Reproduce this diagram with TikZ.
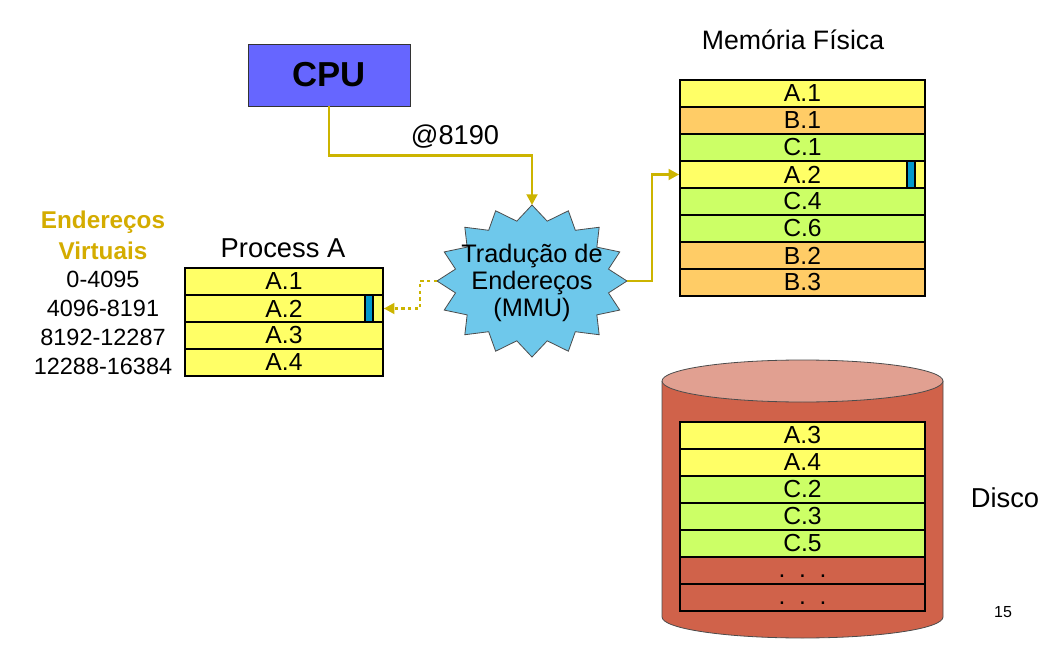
\documentclass[tikz,border=0pt]{standalone}
\usepackage{fontspec}
\setmainfont{Liberation Sans}
\usetikzlibrary{arrows.meta}
\definecolor{cpublue}{RGB}{102,102,255}
\definecolor{gold}{RGB}{204,180,0}
\definecolor{goldtxt}{RGB}{212,172,0}
\definecolor{rowyel}{RGB}{255,255,102}
\definecolor{roworg}{RGB}{255,204,102}
\definecolor{rowgrn}{RGB}{204,255,102}
\definecolor{mark}{RGB}{0,153,204}
\definecolor{mmublue}{RGB}{110,200,235}
\definecolor{diskred}{RGB}{208,98,74}
\definecolor{disktop}{RGB}{225,160,145}
\begin{document}
\begin{tikzpicture}[x=0.75pt,y=-0.75pt,
	fnt/.style={font=\fontsize{#1}{#1}\selectfont},
	row/.style={draw, line width=1.2pt, minimum width=183.75pt, minimum height=20.25pt, inner sep=0pt, fnt=18.5},
	prow/.style={row, minimum width=148.5pt, fill=rowyel},
	link/.style={gold, line width=2.2pt, -{Triangle[length=8pt,width=8pt]}},
	marker/.style={draw, line width=0.8pt, fill=mark}]
	\useasboundingbox (0,0) rectangle (1058,660);
	% CPU
	\node[draw=black!80, fill=cpublue, minimum width=121.5pt, minimum height=46.5pt, fnt=26] (cpu) at (329,75) {\bfseries CPU};
	% MMU star
	\filldraw[fill=mmublue, draw=black!70, line width=0.6pt] (627,281)
		\foreach \i in {1,...,31} {
			\ifodd\i -- ({532+78*cos(\i*11.25)},{281+61*sin(\i*11.25)}) \else -- ({532+95*cos(\i*11.25)},{281+76*sin(\i*11.25)}) \fi
		} -- cycle;
	\node[align=center, fnt=19] (mmu) at (532,283) {Tradução de\\[1pt]Endereços\\[1pt](MMU)};
	\coordinate (mmuT) at (532,205);
	\coordinate (mmuL) at (437,281);
	\coordinate (mmuR) at (627,281);
	% Process A
	\node[fnt=20.5] (procA) at (283,248) {Process A};
	\foreach \n [count=\i] in {A.1,A.2,A.3,A.4}
		\node[prow] (p\i) at (284,{254.5+27*\i}) {\n};
	\draw[marker] (365,295) rectangle (373,322);
	\node[fnt=18.2, goldtxt, align=center] (vlbl) at (103,235) {\bfseries Endereços\\[5pt]\bfseries Virtuais};
	\foreach \n [count=\i] in {0-4095,4096-8191,8192-12287,12288-16384}
		\node[fnt=17.6] (addr\i) at (103,{250+29*\i}) {\n};
	% physical memory
	\node[fnt=20] (memlbl) at (793,40) {Memória Física};
	\foreach \n/\c [count=\i] in {A.1/rowyel,B.1/roworg,C.1/rowgrn,A.2/rowyel,C.4/rowgrn,C.6/rowgrn,B.2/roworg,B.3/roworg}
		\node[row, fill=\c] (m\i) at (802.5,{66.5+27*\i}) {\n};
	\draw[marker] (907,161) rectangle (915,188);
	% disk
	\fill[diskred] (662,381) -- (662,617) arc[start angle=180, end angle=0, x radius=140.5, y radius=21] -- (943,381) -- cycle;
	\draw[black!70, line width=0.6pt] (662,381) -- (662,617) arc[start angle=180, end angle=0, x radius=140.5, y radius=21] -- (943,381);
	\filldraw[fill=disktop, draw=black!70, line width=0.6pt] (802.5,381) ellipse [x radius=140.5, y radius=21];
	\foreach \n/\c [count=\i] in {A.3/rowyel,A.4/rowyel,C.2/rowgrn,C.3/rowgrn,C.5/rowgrn}
		\node[row, fill=\c] (d\i) at (802.5,{408.5+27*\i}) {\n};
	\foreach \i in {6,7}
		\node[row, fill=diskred, text height=3pt, text depth=0pt] (d\i) at (802.5,{408.5+27*\i}) {\raisebox{-4pt}{.\ \ .\ \ .}};
	\node[fnt=20.5] (disklbl) at (1005,498) {Disco};
	\node[fnt=12] (pgnum) at (1003,612) {15};
	% connectors
	\draw[link] (cpu.south) -- ++(0,49) -| (mmuT);
	\node[fnt=20.4] (addr) at (455,137) {@8190};
	\draw[link] (mmuR) -- (652,281) |- (m4.west);
	\draw[link, dash pattern=on 2.5pt off 2.5pt] (mmuL) -- (420,281) |- (p2.east);
\end{tikzpicture}
\end{document}
